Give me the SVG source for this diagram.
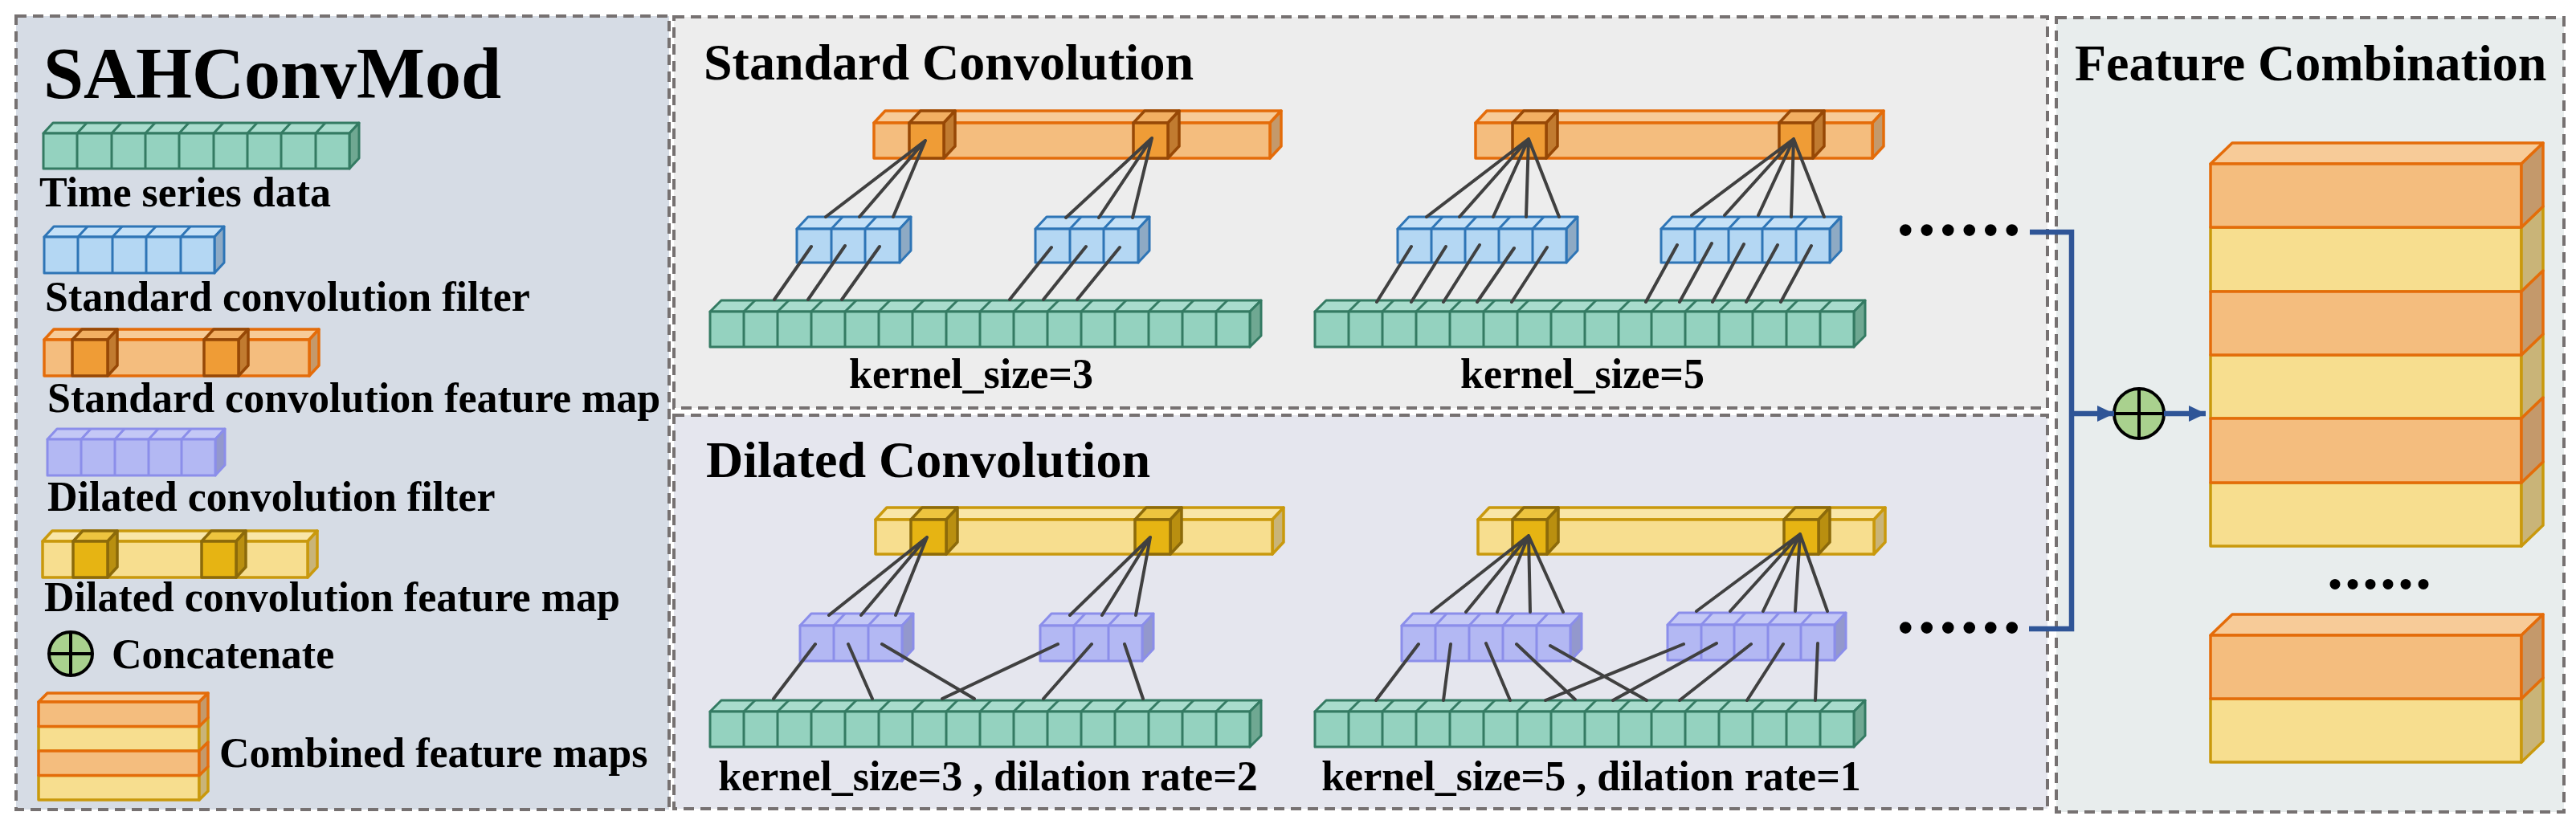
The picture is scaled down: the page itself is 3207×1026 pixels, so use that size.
<svg xmlns="http://www.w3.org/2000/svg" width="3207" height="1026" viewBox="0 0 3207 1026">
<style>
.panel{stroke:#767171;stroke-width:4;stroke-dasharray:13 8}
.t{font-family:"Liberation Serif","Times New Roman",serif;font-weight:bold;fill:#000}
.lg{font-size:52px}
.ttl{font-size:64px}
.mid{text-anchor:middle}
.g{stroke:#347b63;stroke-width:3;stroke-linejoin:round}
.g .f{fill:#94d2bf}.g .tp{fill:#a9dccd}.g .s{fill:#6fa892}
.b{stroke:#2e75b6;stroke-width:3;stroke-linejoin:round}
.b .f{fill:#b4d7f3}.b .tp{fill:#c5e1f7}.b .s{fill:#8eaac4}
.o{stroke:#e46c0a;stroke-width:3.5;stroke-linejoin:round}
.o .f{fill:#f4bd7e}.o .tp{fill:#f7cb98}.o .s{fill:#c4996b}
.od{stroke:#974806;stroke-width:3.5;stroke-linejoin:round}
.od .f{fill:#ef9c36}.od .tp{fill:#f2af62}.od .s{fill:#c17b30}
.p{stroke:#8b8eea;stroke-width:3;stroke-linejoin:round}
.p .f{fill:#b3b8f3}.p .tp{fill:#c4c8f6}.p .s{fill:#9398cd}
.y{stroke:#c9990d;stroke-width:3.5;stroke-linejoin:round}
.y .f{fill:#f7de8f}.y .tp{fill:#f9e6a7}.y .s{fill:#c9b478}
.yd{stroke:#8c6a0a;stroke-width:3.5;stroke-linejoin:round}
.yd .f{fill:#e6b413}.yd .tp{fill:#edc43f}.yd .s{fill:#b98f10}
.dv{fill:none}
.ln{stroke:#404040;stroke-width:4;stroke-linecap:round;fill:none}
.bl{stroke:#2f5597;stroke-width:6.5;fill:none}
.cc{fill:#a9d18e;stroke:#000;stroke-width:4}
</style>
<defs>
<marker id="arr" viewBox="0 0 21 20" refX="21" refY="10" markerWidth="21" markerHeight="20" orient="auto" markerUnits="userSpaceOnUse">
<path d="M0,0 L21,10 L0,20 z" fill="#2f5597"/>
</marker>
</defs>
<rect width="3207" height="1026" fill="#ffffff"/>

<!-- Panels -->
<g id="panel-legend"><rect class="panel" x="20" y="20" width="813" height="988" fill="#d6dce5"/></g>
<g id="panel-standard"><rect class="panel" x="839" y="21" width="1710" height="487" fill="#ededed"/></g>
<g id="panel-dilated"><rect class="panel" x="839" y="517" width="1710" height="490" fill="#e5e6ee"/></g>
<g id="panel-combination"><rect class="panel" x="2560" y="22" width="632" height="989" fill="#e8eded"/></g>

<!-- Titles -->
<g id="title-sah"><text class="t" x="54" y="122" font-size="90">SAHConvMod</text></g>
<g id="title-standard"><text class="t ttl" x="876" y="99">Standard Convolution</text></g>
<g id="title-dilated"><text class="t ttl" x="879" y="594">Dilated Convolution</text></g>
<g id="title-combination"><text class="t ttl" x="2583" y="100">Feature Combination</text></g>

<!-- Legend -->
<g id="legend-time-series">
<g class="g">
<polygon class="tp" points="54,166 66,153 447,153 435,166"/>
<polygon class="s" points="435,166 447,153 447,197 435,210"/>
<rect class="f" x="54" y="166" width="381" height="44"/>
<path class="dv" d="M96 166V210M96 166l12 -13M139 166V210M139 166l12 -13M181 166V210M181 166l12 -13M223 166V210M223 166l12 -13M266 166V210M266 166l12 -13M308 166V210M308 166l12 -13M350 166V210M350 166l12 -13M393 166V210M393 166l12 -13"/>
</g>
<text class="t lg" x="49" y="257">Time series data</text>
</g>
<g id="legend-std-filter">
<g class="b">
<polygon class="tp" points="55,295 67,282 279,282 267,295"/>
<polygon class="s" points="267,295 279,282 279,327 267,340"/>
<rect class="f" x="55" y="295" width="212" height="45"/>
<path class="dv" d="M97 295V340M97 295l12 -13M140 295V340M140 295l12 -13M182 295V340M182 295l12 -13M225 295V340M225 295l12 -13"/>
</g>
<text class="t lg" x="56" y="387">Standard convolution filter</text>
</g>
<g id="legend-std-fmap">
<g class="o">
<polygon class="tp" points="55,423 67,410 397,410 385,423"/>
<polygon class="s" points="385,423 397,410 397,455 385,468"/>
<rect class="f" x="55" y="423" width="330" height="45"/>
</g>
<g class="od">
<polygon class="tp" points="90,423 102,410 146,410 134,423"/>
<polygon class="s" points="134,423 146,410 146,455 134,468"/>
<rect class="f" x="90" y="423" width="44" height="45"/>
<polygon class="tp" points="254,423 266,410 309,410 297,423"/>
<polygon class="s" points="297,423 309,410 309,455 297,468"/>
<rect class="f" x="254" y="423" width="43" height="45"/>
</g>
<text class="t lg" x="59" y="513">Standard convolution feature map</text>
</g>
<g id="legend-dil-filter">
<g class="p">
<polygon class="tp" points="59,547 71,534 280,534 268,547"/>
<polygon class="s" points="268,547 280,534 280,579 268,592"/>
<rect class="f" x="59" y="547" width="209" height="45"/>
<path class="dv" d="M101 547V592M101 547l12 -13M143 547V592M143 547l12 -13M185 547V592M185 547l12 -13M226 547V592M226 547l12 -13"/>
</g>
<text class="t lg" x="59" y="636">Dilated convolution filter</text>
</g>
<g id="legend-dil-fmap">
<g class="y">
<polygon class="tp" points="53,674 65,661 395,661 383,674"/>
<polygon class="s" points="383,674 395,661 395,706 383,719"/>
<rect class="f" x="53" y="674" width="330" height="45"/>
</g>
<g class="yd">
<polygon class="tp" points="91,674 103,661 146,661 134,674"/>
<polygon class="s" points="134,674 146,661 146,706 134,719"/>
<rect class="f" x="91" y="674" width="43" height="45"/>
<polygon class="tp" points="251,674 263,661 306,661 294,674"/>
<polygon class="s" points="294,674 306,661 306,706 294,719"/>
<rect class="f" x="251" y="674" width="43" height="45"/>
</g>
<text class="t lg" x="55" y="761">Dilated convolution feature map</text>
</g>
<g id="legend-concat">
<circle class="cc" cx="88" cy="814" r="27"/>
<path d="M61 814H115M88 787V841" stroke="#000" stroke-width="4"/>
<text class="t lg" x="139" y="832">Concatenate</text>
</g>
<g id="legend-combined">
<g class="y">
<rect class="f" x="48" y="904.5" width="200" height="30.5"/>
<polygon class="s" points="248,904.5 259,893.5 259,924 248,935"/>
<rect class="f" x="48" y="965.5" width="200" height="30.5"/>
<polygon class="s" points="248,965.5 259,954.5 259,985 248,996"/>
</g>
<g class="o">
<polygon class="tp" points="48,874 59,863 259,863 248,874"/>
<rect class="f" x="48" y="874" width="200" height="30.5"/>
<polygon class="s" points="248,874 259,863 259,893.5 248,904.5"/>
<rect class="f" x="48" y="935" width="200" height="30.5"/>
<polygon class="s" points="248,935 259,924 259,954.5 248,965.5"/>
</g>
<text class="t lg" x="273" y="955">Combined feature maps</text>
</g>

<!-- Standard convolution k=3 -->
<g id="std-k3-fmap">
<g class="o">
<polygon class="tp" points="1088,153 1102,138 1595,138 1581,153"/>
<polygon class="s" points="1581,153 1595,138 1595,182 1581,197"/>
<rect class="f" x="1088" y="153" width="493" height="44"/>
</g>
<g class="od">
<polygon class="tp" points="1132,153 1146,138 1189,138 1175,153"/>
<polygon class="s" points="1175,153 1189,138 1189,182 1175,197"/>
<rect class="f" x="1132" y="153" width="43" height="44"/>
<polygon class="tp" points="1411,153 1425,138 1468,138 1454,153"/>
<polygon class="s" points="1454,153 1468,138 1468,182 1454,197"/>
<rect class="f" x="1411" y="153" width="43" height="44"/>
</g>
</g>
<g id="std-k3-filter1" class="b">
<polygon class="tp" points="992,285 1006,270 1134,270 1120,285"/>
<polygon class="s" points="1120,285 1134,270 1134,312 1120,327"/>
<rect class="f" x="992" y="285" width="128" height="42"/>
<path class="dv" d="M1035 285V327M1035 285l14 -15M1077 285V327M1077 285l14 -15"/>
</g>
<g id="std-k3-filter2" class="b">
<polygon class="tp" points="1289,285 1303,270 1431,270 1417,285"/>
<polygon class="s" points="1417,285 1431,270 1431,312 1417,327"/>
<rect class="f" x="1289" y="285" width="128" height="42"/>
<path class="dv" d="M1332 285V327M1332 285l14 -15M1374 285V327M1374 285l14 -15"/>
</g>
<g id="std-k3-data" class="g">
<polygon class="tp" points="884,388 898,374 1570,374 1556,388"/>
<polygon class="s" points="1556,388 1570,374 1570,418 1556,432"/>
<rect class="f" x="884" y="388" width="672" height="44"/>
<path class="dv" d="M926 388V432M926 388l14 -14M968 388V432M968 388l14 -14M1010 388V432M1010 388l14 -14M1052 388V432M1052 388l14 -14M1094 388V432M1094 388l14 -14M1136 388V432M1136 388l14 -14M1178 388V432M1178 388l14 -14M1220 388V432M1220 388l14 -14M1262 388V432M1262 388l14 -14M1304 388V432M1304 388l14 -14M1346 388V432M1346 388l14 -14M1388 388V432M1388 388l14 -14M1430 388V432M1430 388l14 -14M1472 388V432M1472 388l14 -14M1514 388V432M1514 388l14 -14"/>
</g>
<g id="std-k3-label"><text class="t lg mid" x="1209" y="483">kernel_size=3</text></g>

<!-- Standard convolution k=5 -->
<g id="std-k5-fmap">
<g class="o">
<polygon class="tp" points="1837,153 1851,138 2345,138 2331,153"/>
<polygon class="s" points="2331,153 2345,138 2345,182 2331,197"/>
<rect class="f" x="1837" y="153" width="494" height="44"/>
</g>
<g class="od">
<polygon class="tp" points="1883,153 1897,138 1939,138 1925,153"/>
<polygon class="s" points="1925,153 1939,138 1939,182 1925,197"/>
<rect class="f" x="1883" y="153" width="42" height="44"/>
<polygon class="tp" points="2215,153 2229,138 2271,138 2257,153"/>
<polygon class="s" points="2257,153 2271,138 2271,182 2257,197"/>
<rect class="f" x="2215" y="153" width="42" height="44"/>
</g>
</g>
<g id="std-k5-filter1" class="b">
<polygon class="tp" points="1740,285 1754,270 1964,270 1950,285"/>
<polygon class="s" points="1950,285 1964,270 1964,312 1950,327"/>
<rect class="f" x="1740" y="285" width="210" height="42"/>
<path class="dv" d="M1782 285V327M1782 285l14 -15M1824 285V327M1824 285l14 -15M1866 285V327M1866 285l14 -15M1908 285V327M1908 285l14 -15"/>
</g>
<g id="std-k5-filter2" class="b">
<polygon class="tp" points="2068,285 2082,270 2292,270 2278,285"/>
<polygon class="s" points="2278,285 2292,270 2292,312 2278,327"/>
<rect class="f" x="2068" y="285" width="210" height="42"/>
<path class="dv" d="M2110 285V327M2110 285l14 -15M2152 285V327M2152 285l14 -15M2194 285V327M2194 285l14 -15M2236 285V327M2236 285l14 -15"/>
</g>
<g id="std-k5-data" class="g">
<polygon class="tp" points="1637,388 1651,374 2322,374 2308,388"/>
<polygon class="s" points="2308,388 2322,374 2322,418 2308,432"/>
<rect class="f" x="1637" y="388" width="671" height="44"/>
<path class="dv" d="M1679 388V432M1679 388l14 -14M1721 388V432M1721 388l14 -14M1763 388V432M1763 388l14 -14M1805 388V432M1805 388l14 -14M1847 388V432M1847 388l14 -14M1889 388V432M1889 388l14 -14M1931 388V432M1931 388l14 -14M1973 388V432M1973 388l14 -14M2015 388V432M2015 388l14 -14M2056 388V432M2056 388l14 -14M2098 388V432M2098 388l14 -14M2140 388V432M2140 388l14 -14M2182 388V432M2182 388l14 -14M2224 388V432M2224 388l14 -14M2266 388V432M2266 388l14 -14"/>
</g>
<g id="std-k5-label"><text class="t lg mid" x="1970" y="483">kernel_size=5</text></g>
<g id="std-dots"><text class="t" x="2361" y="293" font-size="90" letter-spacing="4">......</text></g>

<!-- Dilated convolution k=3 -->
<g id="dil-k3-fmap">
<g class="y">
<polygon class="tp" points="1090,647 1104,632 1598,632 1584,647"/>
<polygon class="s" points="1584,647 1598,632 1598,675 1584,690"/>
<rect class="f" x="1090" y="647" width="494" height="43"/>
</g>
<g class="yd">
<polygon class="tp" points="1134,647 1148,632 1192,632 1178,647"/>
<polygon class="s" points="1178,647 1192,632 1192,675 1178,690"/>
<rect class="f" x="1134" y="647" width="44" height="43"/>
<polygon class="tp" points="1413,647 1427,632 1471,632 1457,647"/>
<polygon class="s" points="1457,647 1471,632 1471,675 1457,690"/>
<rect class="f" x="1413" y="647" width="44" height="43"/>
</g>
</g>
<g id="dil-k3-filter1" class="p">
<polygon class="tp" points="996,779 1010,764 1137,764 1123,779"/>
<polygon class="s" points="1123,779 1137,764 1137,808 1123,823"/>
<rect class="f" x="996" y="779" width="127" height="44"/>
<path class="dv" d="M1038 779V823M1038 779l14 -15M1081 779V823M1081 779l14 -15"/>
</g>
<g id="dil-k3-filter2" class="p">
<polygon class="tp" points="1295,779 1309,764 1436,764 1422,779"/>
<polygon class="s" points="1422,779 1436,764 1436,808 1422,823"/>
<rect class="f" x="1295" y="779" width="127" height="44"/>
<path class="dv" d="M1337 779V823M1337 779l14 -15M1380 779V823M1380 779l14 -15"/>
</g>
<g id="dil-k3-data" class="g">
<polygon class="tp" points="884,886 898,872 1570,872 1556,886"/>
<polygon class="s" points="1556,886 1570,872 1570,916 1556,930"/>
<rect class="f" x="884" y="886" width="672" height="44"/>
<path class="dv" d="M926 886V930M926 886l14 -14M968 886V930M968 886l14 -14M1010 886V930M1010 886l14 -14M1052 886V930M1052 886l14 -14M1094 886V930M1094 886l14 -14M1136 886V930M1136 886l14 -14M1178 886V930M1178 886l14 -14M1220 886V930M1220 886l14 -14M1262 886V930M1262 886l14 -14M1304 886V930M1304 886l14 -14M1346 886V930M1346 886l14 -14M1388 886V930M1388 886l14 -14M1430 886V930M1430 886l14 -14M1472 886V930M1472 886l14 -14M1514 886V930M1514 886l14 -14"/>
</g>
<g id="dil-k3-label"><text class="t lg mid" x="1230" y="984">kernel_size=3 , dilation rate=2</text></g>

<!-- Dilated convolution k=5 -->
<g id="dil-k5-fmap">
<g class="y">
<polygon class="tp" points="1840,647 1854,632 2347,632 2333,647"/>
<polygon class="s" points="2333,647 2347,632 2347,675 2333,690"/>
<rect class="f" x="1840" y="647" width="493" height="43"/>
</g>
<g class="yd">
<polygon class="tp" points="1883,647 1897,632 1940,632 1926,647"/>
<polygon class="s" points="1926,647 1940,632 1940,675 1926,690"/>
<rect class="f" x="1883" y="647" width="43" height="43"/>
<polygon class="tp" points="2221,647 2235,632 2278,632 2264,647"/>
<polygon class="s" points="2264,647 2278,632 2278,675 2264,690"/>
<rect class="f" x="2221" y="647" width="43" height="43"/>
</g>
</g>
<g id="dil-k5-filter1" class="p">
<polygon class="tp" points="1745,779 1759,764 1969,764 1955,779"/>
<polygon class="s" points="1955,779 1969,764 1969,808 1955,823"/>
<rect class="f" x="1745" y="779" width="210" height="44"/>
<path class="dv" d="M1787 779V823M1787 779l14 -15M1829 779V823M1829 779l14 -15M1871 779V823M1871 779l14 -15M1913 779V823M1913 779l14 -15"/>
</g>
<g id="dil-k5-filter2" class="p">
<polygon class="tp" points="2076,778 2090,763 2298,763 2284,778"/>
<polygon class="s" points="2284,778 2298,763 2298,807 2284,822"/>
<rect class="f" x="2076" y="778" width="208" height="44"/>
<path class="dv" d="M2118 778V822M2118 778l14 -15M2159 778V822M2159 778l14 -15M2201 778V822M2201 778l14 -15M2242 778V822M2242 778l14 -15"/>
</g>
<g id="dil-k5-data" class="g">
<polygon class="tp" points="1637,886 1651,872 2322,872 2308,886"/>
<polygon class="s" points="2308,886 2322,872 2322,916 2308,930"/>
<rect class="f" x="1637" y="886" width="671" height="44"/>
<path class="dv" d="M1679 886V930M1679 886l14 -14M1721 886V930M1721 886l14 -14M1763 886V930M1763 886l14 -14M1805 886V930M1805 886l14 -14M1847 886V930M1847 886l14 -14M1889 886V930M1889 886l14 -14M1931 886V930M1931 886l14 -14M1973 886V930M1973 886l14 -14M2015 886V930M2015 886l14 -14M2056 886V930M2056 886l14 -14M2098 886V930M2098 886l14 -14M2140 886V930M2140 886l14 -14M2182 886V930M2182 886l14 -14M2224 886V930M2224 886l14 -14M2266 886V930M2266 886l14 -14"/>
</g>
<g id="dil-k5-label"><text class="t lg mid" x="1981" y="984">kernel_size=5 , dilation rate=1</text></g>
<g id="dil-dots"><text class="t" x="2361" y="788" font-size="90" letter-spacing="4">......</text></g>

<!-- Feature combination -->
<g id="concat-op">
<circle class="cc" cx="2663" cy="515" r="31"/>
<path d="M2632 515H2694M2663 484V546" stroke="#000" stroke-width="4"/>
</g>
<g id="combined-stack-1">
<g class="y">
<rect class="f" x="2752" y="283" width="387" height="80"/>
<polygon class="s" points="3139,283 3166,257 3166,337 3139,363"/>
<rect class="f" x="2752" y="442" width="387" height="79"/>
<polygon class="s" points="3139,442 3166,416 3166,495 3139,521"/>
<rect class="f" x="2752" y="601" width="387" height="79"/>
<polygon class="s" points="3139,601 3166,575 3166,654 3139,680"/>
</g>
<g class="o">
<polygon class="tp" points="2752,204 2779,178 3166,178 3139,204"/>
<rect class="f" x="2752" y="204" width="387" height="79"/>
<polygon class="s" points="3139,204 3166,178 3166,257 3139,283"/>
<rect class="f" x="2752" y="363" width="387" height="79"/>
<polygon class="s" points="3139,363 3166,337 3166,416 3139,442"/>
<rect class="f" x="2752" y="521" width="387" height="80"/>
<polygon class="s" points="3139,521 3166,495 3166,575 3139,601"/>
</g>
</g>
<g id="combined-dots"><text class="t" x="2897" y="733" font-size="80" letter-spacing="2">......</text></g>
<g id="combined-stack-2">
<g class="y">
<rect class="f" x="2752" y="870" width="387" height="79"/>
<polygon class="s" points="3139,870 3166,844 3166,923 3139,949"/>
</g>
<g class="o">
<polygon class="tp" points="2752,791 2779,765 3166,765 3139,791"/>
<rect class="f" x="2752" y="791" width="387" height="79"/>
<polygon class="s" points="3139,791 3166,765 3166,844 3139,870"/>
</g>
</g>

<!-- Connectors -->
<g id="connectors">
<path class="ln" d="M1028 270L1152 175M1070 270L1152 175M1112 270L1152 175M1327 271L1434 172M1368 271L1434 172M1410 271L1434 172"/>
<path class="ln" d="M1010 307L964 373M1052 306L1006 373M1095 307L1048 373M1309 308L1257 373M1352 307L1299 373M1394 308L1341 373"/>
<path class="ln" d="M1776 270L1903 173M1817 270L1903 173M1859 270L1903 173M1900 270L1903 173M1941 270L1903 173M2106 268L2233 173M2147 268L2233 173M2189 268L2233 173M2230 270L2233 173M2271 270L2233 173"/>
<path class="ln" d="M1757 307L1714 376M1800 307L1757 376M1842 305L1797 376M1885 309L1839 376M1926 308L1882 376M2088 305L2049 376M2131 303L2091 376M2171 304L2132 376M2213 305L2174 376M2255 306L2217 376"/>
<path class="ln" d="M1032 766L1154 669M1072 766L1154 669M1115 766L1154 669M1332 766L1432 669M1372 766L1432 669M1414 766L1432 669"/>
<path class="ln" d="M1015 802L963 870M1056 802L1086 870M1098 802L1213 870M1317 802L1173 870M1359 802L1299 870M1400 802L1423 870"/>
<path class="ln" d="M1782 762L1903 667M1825 762L1903 667M1864 762L1903 667M1905 762L1903 667M1946 762L1903 667M2112 761L2241 665M2154 761L2241 665M2195 761L2241 665M2235 761L2241 665M2275 761L2241 665"/>
<path class="ln" d="M1766 802L1713 872M1806 802L1797 872M1850 801L1880 872M1888 802L1961 871M1930 804L2050 872M2096 802L1924 872M2137 801L2008 872M2180 802L2091 872M2220 802L2175 872M2263 801L2260 872"/>
<path class="bl" d="M2527 289H2579V783H2526"/>
<path class="bl" d="M2579 515H2632" marker-end="url(#arr)"/>
<path class="bl" d="M2694 515H2746" marker-end="url(#arr)"/>
</g>
</svg>
